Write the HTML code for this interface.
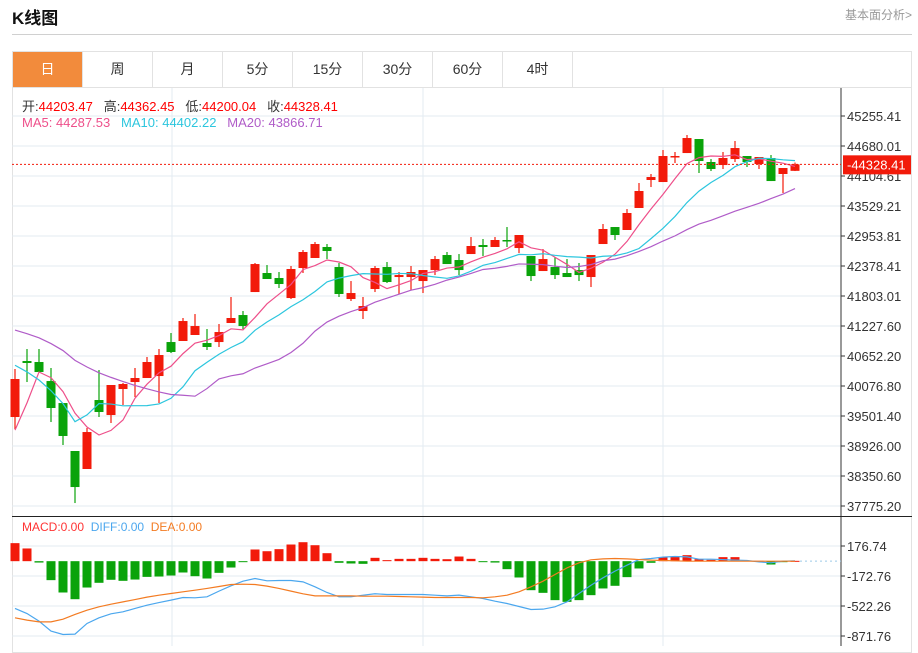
<!DOCTYPE html>
<html><head><meta charset="utf-8"><style>
body{margin:0;width:918px;height:646px;overflow:hidden;background:#fff;font-family:"Liberation Sans","Noto Sans CJK SC",sans-serif;position:relative}
.t{position:absolute}
.tab{position:absolute;top:52px;width:69px;height:35px;line-height:35px;text-align:center;font-size:14px;color:#333;border-right:1px solid #e2e2e2}
</style></head><body>
<div class="t" style="left:12px;top:4px;font-size:17px;font-weight:bold;color:#111">K线图</div>
<div class="t" style="left:845px;top:6px;font-size:12px;color:#999">基本面分析&gt;</div>
<div class="t" style="left:12px;top:34px;width:900px;height:1px;background:#d0d0d0"></div>
<div class="t" style="left:12px;top:51px;width:898px;height:600px;border:1px solid #e2e2e2"></div>
<div class="t" style="left:12px;top:87px;width:900px;height:1px;background:#e2e2e2"></div>
<div class="tab" style="left:13px;background:#f28b3c;color:#fff">日</div>
<div class="tab" style="left:83px">周</div>
<div class="tab" style="left:153px">月</div>
<div class="tab" style="left:223px">5分</div>
<div class="tab" style="left:293px">15分</div>
<div class="tab" style="left:363px">30分</div>
<div class="tab" style="left:433px">60分</div>
<div class="tab" style="left:503px">4时</div>
<svg id="chart" class="t" style="left:0;top:0" width="918" height="646" xmlns="http://www.w3.org/2000/svg"></svg>
<div class="t" style="left:22px;top:96px;font-size:13px;color:#333;white-space:pre">开:<span style="color:#f00">44203.47</span>   高:<span style="color:#f00">44362.45</span>   低:<span style="color:#f00">44200.04</span>   收:<span style="color:#f00">44328.41</span></div>
<div class="t" style="left:22px;top:115px;font-size:13px;white-space:pre"><span style="color:#ee4f8a">MA5: 44287.53</span>   <span style="color:#2cc6de">MA10: 44402.22</span>   <span style="color:#b05cc8">MA20: 43866.71</span></div>
<div class="t" style="left:22px;top:520px;font-size:12px;white-space:pre"><span style="color:#f33">MACD:0.00</span>  <span style="color:#4ba7ee">DIFF:0.00</span>  <span style="color:#f37b22">DEA:0.00</span></div>
<script>
const openV=[39482,40556,40537,40172,39750,38830,38485,39808,39520,40019,40153,40230,40268,40920,40940,41055,40901,40920,41285,41438,41879,42244,42148,41764,42340,42532,42743,42359,41745,41515,41937,42359,42167,42167,42090,42301,42589,42493,42608,42781,42743,42877,42723,42570,42282,42359,42244,42301,42167,42800,43126,43069,43491,44028,43989,44469,44545,44814,44373,44315,44430,44488,44334,44450,44143,44203.47];
const highV=[40403,40786,40786,40422,39750,38830,39271,40383,40096,40134,40422,40633,40786,41093,41381,41457,41170,41266,41784,41515,42436,42397,42263,42378,42685,42838,42800,42436,42090,41784,42378,42455,42263,42378,42301,42570,42647,42608,42934,42896,42934,43126,42973,42570,42704,42551,42512,42436,42589,43184,43126,43471,43970,44143,44603,44565,44891,44814,44430,44565,44776,44488,44469,44507,44258,44362.45];
const lowV=[39252,40153,40345,39386,38945,37832,38485,39482,39367,39712,39866,40230,39750,40709,40940,41055,40767,40825,41285,41170,41879,42129,41956,41745,42244,42532,42512,41784,41707,41362,41879,42052,41841,41918,41860,42205,42416,42205,42608,42570,42743,42743,42627,42090,42282,42129,42167,42090,41975,42800,42877,43069,43491,43893,43989,44354,44545,44162,44200,44239,44373,44277,44239,44008,43778,44200.04];
const closeV=[40211,40518,40345,39655,39118,38139,39194,39578,40096,40115,40230,40537,40671,40729,41323,41227,40825,41112,41381,41227,42416,42129,42033,42321,42647,42800,42666,41841,41860,41611,42340,42071,42205,42263,42301,42512,42416,42301,42762,42743,42877,42858,42973,42186,42512,42205,42167,42205,42589,43088,42973,43395,43817,44085,44488,44488,44833,44392,44239,44450,44641,44373,44469,44008,44258,44328.41];
const priorCloses=[41900,41950,41850,41800,41900,41750,41800,41850,41700,41750,41800,41900,41700,41600,41600,37900,37388,40200,40451];
const priceTicks=[45255.41,44680.01,44104.61,43529.21,42953.81,42378.41,41803.01,41227.60,40652.20,40076.80,39501.40,38926.00,38350.60,37775.20];
const diffV=[-551,-610,-699,-815,-854,-850,-726,-660,-613,-590,-551,-513,-482,-454,-423,-427,-415,-349,-287,-233,-202,-229,-225,-225,-241,-299,-365,-415,-415,-396,-380,-388,-388,-388,-388,-396,-404,-396,-415,-435,-466,-493,-528,-563,-559,-532,-474,-377,-280,-194,-116,-47,19,31,47,54,50,23,23,19,12,8,-8,-19,0,4];
const deaV=[-660,-687,-707,-707,-676,-621,-571,-532,-501,-474,-447,-419,-396,-377,-357,-338,-318,-295,-272,-268,-272,-291,-318,-349,-380,-404,-404,-404,-404,-408,-408,-408,-412,-415,-419,-423,-423,-423,-423,-427,-415,-396,-357,-299,-233,-155,-78,-19,16,27,31,27,19,12,8,4,0,0,0,0,0,0,0,0,0,0];
const histV=[210,148,-16,-221,-365,-443,-307,-252,-217,-229,-214,-183,-179,-167,-132,-175,-202,-136,-74,-4,136,116,140,194,221,186,93,-19,-27,-31,39,12,27,27,39,27,23,54,27,-8,-16,-93,-190,-338,-369,-454,-474,-454,-396,-318,-287,-186,-85,-19,47,54,70,23,16,47,47,8,4,-39,-4,4];
const macdTicks=[176.74,-172.76,-522.26,-871.76];
const lastClose=44328.41;

const svg=document.getElementById('chart');
const NS='http://www.w3.org/2000/svg';
const L=12,R=841;
const yP=v=>116+(45255.41-v)*30/575.4;
const yM=v=>546+(176.74-v)*30/349.5;
const xC=i=>15+12*i;
function mk(tag,attrs,parent){const e=document.createElementNS(NS,tag);for(const k in attrs)e.setAttribute(k,attrs[k]);(parent||svg).appendChild(e);return e;}

// grids
priceTicks.forEach((t,i)=>{
  const g=mk('line',{x1:L,x2:R,y1:yP(t),y2:yP(t),stroke:'#e3ebf2','stroke-width':1});
  
  
  const tk=mk('line',{x1:R,x2:R+4,y1:yP(t),y2:yP(t),stroke:'#333'});
  
  
  const tx=mk('text',{x:R+6,y:yP(t)+5,'font-size':13,fill:'#333','font-family':'Liberation Sans, sans-serif'});
  tx.textContent=t.toFixed(2);
  
  
});
[546,576,606,636].forEach((y,i)=>{
  const g=mk('line',{x1:L,x2:R,y1:y,y2:y,stroke:'#e3ebf2'});
  
  
});
macdTicks.forEach(t=>{
  const tk=mk('line',{x1:R,x2:R+4,y1:yM(t),y2:yM(t),stroke:'#333'});
  
  
  const tx=mk('text',{x:R+6,y:yM(t)+5,'font-size':13,fill:'#333','font-family':'Liberation Sans, sans-serif'});
  tx.textContent=t.toFixed(2);
  
  
});
[172,423,663].forEach(x=>{
  const v=mk('line',{x1:x,x2:x,y1:88,y2:646,stroke:'#e3ebf2'});
  
  
});
const ax=mk('line',{x1:R,x2:R,y1:88,y2:646,stroke:'#333'});


const sep=mk('line',{x1:L,x2:912,y1:516.5,y2:516.5,stroke:'#222'});



// candles
closeV.forEach((c,i)=>{
  const o=openV[i],up=c>=o,col=up?'#f21a0a':'#0aa30a',x=xC(i);
  const w=mk('line',{x1:x,x2:x,y1:yP(highV[i]),y2:yP(lowV[i]),stroke:col,'stroke-width':1.2});
  
  
  const top=yP(Math.max(o,c)),bot=yP(Math.min(o,c));
  const b=mk('rect',{x:x-4.5,y:top,width:9,height:Math.max(1.5,bot-top),fill:col});
  
  
});

// moving averages
const all=priorCloses.concat(closeV);
function ma(n){const out=[];for(let i=0;i<closeV.length;i++){const j=i+priorCloses.length;let s=0;for(let k=j-n+1;k<=j;k++)s+=all[k];out.push(s/n);}return out;}
[[5,'#ee4f8a','ma5-line'],[10,'#2cc6de','ma10-line'],[20,'#b05cc8','ma20-line']].forEach(([n,col,name])=>{
  const m=ma(n);
  const p=mk('polyline',{points:m.map((v,i)=>xC(i)+','+yP(v)).join(' '),fill:'none',stroke:col,'stroke-width':1.2});
  
  
});

// last price line
const lp=mk('line',{x1:L,x2:R,y1:yP(lastClose),y2:yP(lastClose),stroke:'#f21a0a','stroke-dasharray':'2,2'});


const lb=mk('rect',{x:843,y:yP(lastClose)-9,width:68,height:19,fill:'#f21a0a'});


const lt=mk('text',{x:847,y:yP(lastClose)+5,'font-size':13,fill:'#fff','font-family':'Liberation Sans, sans-serif'});
lt.textContent='-'+lastClose.toFixed(2);



// MACD
const z=yM(0);
const zl=mk('line',{x1:800,x2:R,y1:z,y2:z,stroke:'#9cc9e8','stroke-dasharray':'2,3'});


histV.forEach((h,i)=>{
  const y=yM(h);
  const r=mk('rect',{x:xC(i)-4.5,y:Math.min(y,z),width:9,height:Math.max(1,Math.abs(y-z)),fill:h>=0?'#f21a0a':'#0aa30a'});
  
  
});
const dl=mk('polyline',{points:diffV.map((v,i)=>xC(i)+','+yM(v)).join(' '),fill:'none',stroke:'#4ba7ee','stroke-width':1.2});


const el=mk('polyline',{points:deaV.map((v,i)=>xC(i)+','+yM(v)).join(' '),fill:'none',stroke:'#f37b22','stroke-width':1.2});


</script>
</body></html>
